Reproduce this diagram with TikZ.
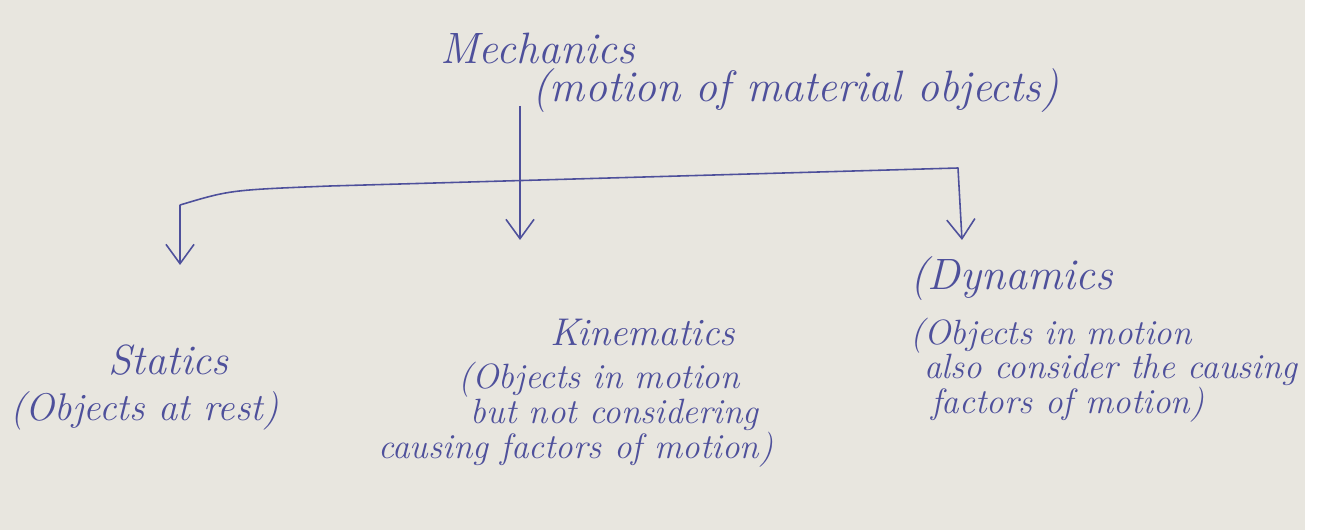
\documentclass[tikz,border=0pt]{standalone}
\usepackage{tikz}
\usetikzlibrary{arrows.meta,positioning}
\definecolor{paper}{RGB}{232,230,223}
\definecolor{ink}{RGB}{78,80,155}

\begin{document}
\begin{tikzpicture}[x=0.02cm,y=-0.02cm,node distance=0.2cm,
    hand/.style={text=ink,inner sep=0pt,anchor=base west},
    note/.style={text=ink,inner sep=0pt,align=left,anchor=north west},
    bar/.style={ink,line width=0.9pt,line cap=round},
    branch/.style={-{Straight Barb[length=11pt,width=16pt]},ink,line width=0.9pt}]
  \fill[paper] (0,0) rectangle (1305,530);
  \fill[white] (1305,0) rectangle (1319,530);
  \useasboundingbox (0,0) rectangle (1319,530);

  \node[hand,font=\fontsize{25}{28}\selectfont\itshape] (mech) at (440,64) {Mechanics};
  \node[hand,font=\fontsize{25}{28}\selectfont\itshape] (mechnote) at (532,102)
    {(motion of material objects)};

  \coordinate (top) at (520,106);
  \coordinate (lc) at (180,205);
  \coordinate (rc) at (958,168);
  \coordinate (stip) at (180,265);
  \coordinate (ktip) at (520,240);
  \coordinate (dtip) at (962,240);

  \draw[bar] (lc) .. controls (230,190) .. (330,186) -- (rc);
  \draw[branch] (top) -- (ktip);
  \draw[branch] (lc) -- (stip);
  \draw[branch] (rc) -- (dtip);

  \node[hand,font=\fontsize{24}{28}\selectfont\itshape] (stat) at (108,375) {Statics};
  \node[hand,font=\fontsize{22}{26}\selectfont\itshape] (statnote) at (10,420) {(Objects at rest)};

  \node[hand,font=\fontsize{22}{26}\selectfont\itshape] (kin) at (550,345) {Kinematics};
  \node[note,font=\fontsize{20}{20}\selectfont\itshape] (kinnote) at (378,362)
    {\hspace*{1.6cm}(Objects in motion\\\hspace*{1.85cm}but not considering\\causing factors of motion)};

  \node[hand,font=\fontsize{25}{28}\selectfont\itshape] (dyn) at (910,290) {(Dynamics};
  \node[note,font=\fontsize{20}{19}\selectfont\itshape] (dynnote) at (910,318)
    {(Objects in motion\\\hspace*{0.4em}also consider the causing\\\hspace*{0.6em}factors of motion)};
\end{tikzpicture}
\end{document}
